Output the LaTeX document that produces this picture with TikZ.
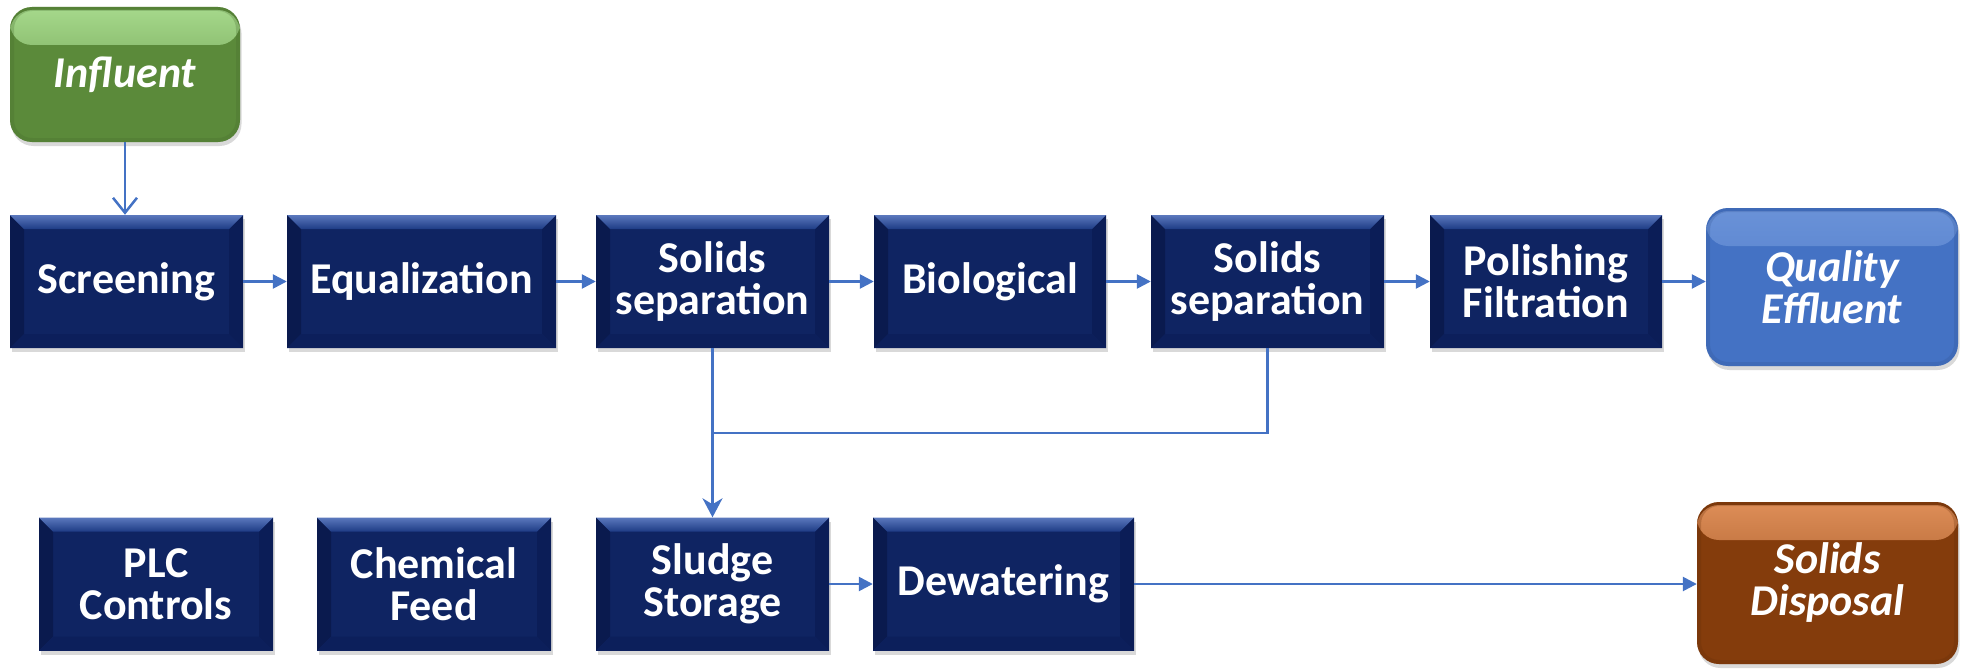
\documentclass[tikz,border=0pt]{standalone}
\usepackage{fontspec}
\setmainfont{Carlito}
\usetikzlibrary{arrows.meta,calc,shadows}

\definecolor{navy}{HTML}{0F2462}
\definecolor{bevtop}{HTML}{5B78BD}
\definecolor{bevtopin}{HTML}{1E3C85}
\definecolor{bevleft}{HTML}{0A1A4E}
\definecolor{bevright}{HTML}{0B1D57}
\definecolor{bevbot}{HTML}{0C1F5B}
\definecolor{linkblue}{HTML}{4472C4}
\definecolor{grn}{HTML}{5B8A3A}
\definecolor{grnlight}{HTML}{A6D98C}
\definecolor{qblue}{HTML}{4472C4}
\definecolor{qbluelight}{HTML}{6A92D8}
\definecolor{brn}{HTML}{843C0C}
\definecolor{brnlight}{HTML}{DE8E58}

\newcommand\bevelfaces{%
  \path (path picture bounding box.north west) coordinate (pA)
        (path picture bounding box.north east) coordinate (pB)
        (path picture bounding box.south east) coordinate (pC)
        (path picture bounding box.south west) coordinate (pD);
  \path ($(pA)+(14,14)$) coordinate (pa)
        ($(pB)+(-14,14)$) coordinate (pb)
        ($(pC)+(-14,-14)$) coordinate (pc)
        ($(pD)+(14,-14)$) coordinate (pd);
  \fill[bevleft] (pA) -- (pa) -- (pd) -- (pD) -- cycle;
  \fill[bevright] (pB) -- (pb) -- (pc) -- (pC) -- cycle;
  \fill[bevbot] (pD) -- (pd) -- (pc) -- (pC) -- cycle;
  \shade[top color=bevtop, bottom color=bevtopin] (pA) -- (pB) -- (pb) -- (pa) -- cycle;
}

\tikzset{
  base/.style={inner sep=0pt, align=center, text=white},
  procbox/.style={base, minimum width=#1, minimum height=133pt, fill=navy,
    font=\fontsize{44}{42}\selectfont\bfseries,
    drop shadow={shadow xshift=1.5pt, shadow yshift=-4pt, opacity=0.3},
    path picture={\bevelfaces}},
  terminal/.style n args={4}{base, minimum width=#1, minimum height=#2,
    rounded corners=22pt, fill=#3,
    font=\fontsize{44}{42}\selectfont\bfseries\itshape,
    drop shadow={shadow xshift=1.5pt, shadow yshift=-4pt, opacity=0.3},
    path picture={
      \shade[top color=#4, bottom color=#3]
        ($(path picture bounding box.north west)+(0,3)$) rectangle
        ($(path picture bounding box.north east)+(0,38)$);
      \draw[#3!75!black, line width=8pt, opacity=0.25, rounded corners=22pt]
        (path picture bounding box.north west) rectangle
        (path picture bounding box.south east);
    }},
  link/.style={draw=linkblue, line width=2.5pt},
  arr/.style={link, -{Triangle[length=14pt,width=14pt]}},
  openarr/.style={link, -{Straight Barb[length=15pt,width=24pt]}},
  mergearr/.style={link, -{Stealth[length=19pt,width=20pt,inset=6pt]}},
}

\begin{document}
\begin{tikzpicture}[x=1pt, y=-1pt]
\useasboundingbox (0,0) rectangle (1965,669);

% terminals
\node[terminal={230pt}{135pt}{grn}{grnlight}] (infl) at (125,74.5) {Influent};
\node[terminal={252pt}{158pt}{qblue}{qbluelight}] (qual) at (1832,287) {Quality\\Effluent};
\node[terminal={261pt}{162pt}{brn}{brnlight}] (disp) at (1827.5,583) {Solids\\Disposal};

% process row 1
\node[procbox=233pt] (scr)  at (126.5,281.5) {Screening};
\node[procbox=269pt] (equ)  at (421.5,281.5) {Equalization};
\node[procbox=233pt] (sol1) at (712.5,281.5) {Solids\\separation};
\node[procbox=232pt] (bio)  at (990,281.5) {Biological};
\node[procbox=233pt] (sol2) at (1267.5,281.5) {Solids\\separation};
\node[procbox=232pt] (pol)  at (1546,281.5) {Polishing\\Filtration};

% process row 2
\node[procbox=234pt] (plc)    at (156,584) {PLC\\Controls};
\node[procbox=234pt] (chem)   at (434,584) {Chemical\\Feed};
\node[procbox=233pt] (sludge) at (712.5,584) {Sludge\\Storage};
\node[procbox=261pt] (dew)    at (1003.5,584) {Dewatering};

\coordinate (j) at (712.5,433);

% connectors
\draw[openarr] (infl.south) -- (infl.south |- scr.north);
\draw[arr] (scr.east) -- (equ.west);
\draw[arr] (equ.east) -- (sol1.west);
\draw[arr] (sol1.east) -- (bio.west);
\draw[arr] (bio.east) -- (sol2.west);
\draw[arr] (sol2.east) -- (pol.west);
\draw[arr] (pol.east) -- (pol.east -| qual.west);
\draw[mergearr] (sol1.south) -- (sludge.north);
\draw[link] (sol2.south) |- (j);
\draw[arr] (sludge.east) -- (dew.west);
\draw[arr] (dew.east) -- (dew.east -| disp.west);
\end{tikzpicture}
\end{document}
